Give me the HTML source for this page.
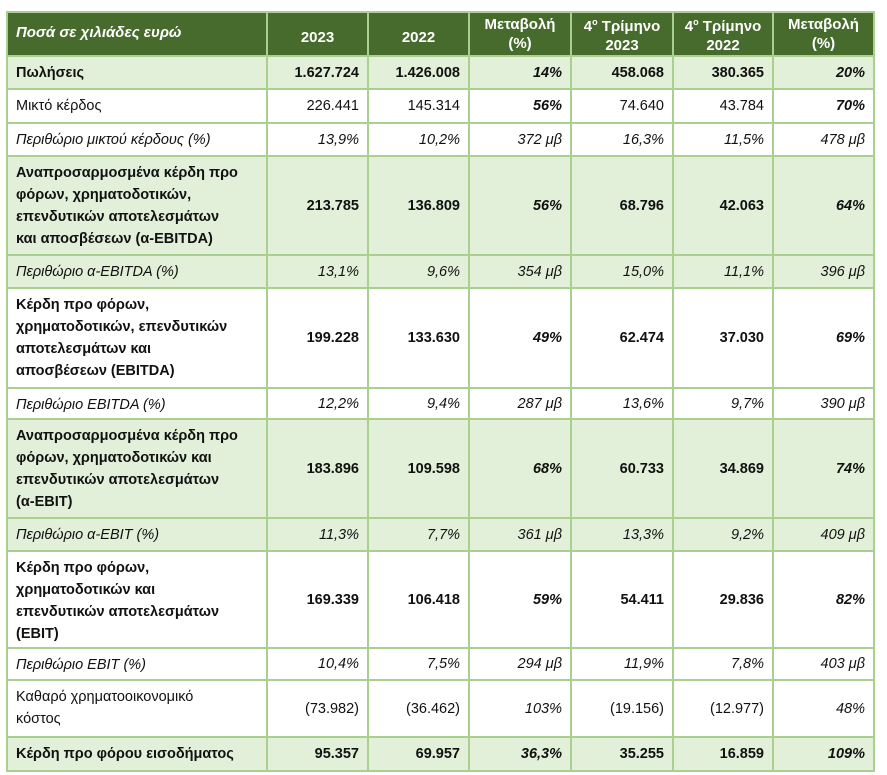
<!DOCTYPE html>
<html><head><meta charset="utf-8">
<style>
body{margin:0;background:#fff;width:887px;height:775px;overflow:hidden;font-family:"Liberation Sans","DejaVu Sans",sans-serif;color:#111;}
table{position:absolute;left:6px;top:11px;border-collapse:collapse;table-layout:fixed;font-size:14.5px;}
td{border:2px solid #a9d08e;padding:0 8px;line-height:22px;vertical-align:middle;text-align:right;white-space:nowrap;box-sizing:border-box;}
td:first-child{text-align:left;vertical-align:top;padding-top:5px;}
tr.h td{background:#466b2c;color:#fff;font-weight:bold;text-align:center;line-height:19px;vertical-align:middle;padding:0 4px;font-size:15px;}
tr.h td.lo{padding-top:6px;}
tr.h td:first-child{font-style:italic;text-align:left;padding:0 8px 4px 8px;vertical-align:middle;}
tr.g td{background:#e2efd9;}
.b{font-weight:bold}
.i{font-style:italic}
.bi{font-weight:bold;font-style:italic}
</style></head><body>
<table>
<colgroup><col style="width:260px"><col style="width:101px"><col style="width:101px"><col style="width:102px"><col style="width:102px"><col style="width:100px"><col style="width:101px"></colgroup>
<tr class="h" style="height:44px"><td>Ποσά σε χιλιάδες ευρώ</td><td class="lo">2023</td><td class="lo">2022</td><td>Μεταβολή<br>(%)</td><td>4<sup style="font-size:9px">ο</sup> Τρίμηνο<br>2023</td><td>4<sup style="font-size:9px">ο</sup> Τρίμηνο<br>2022</td><td>Μεταβολή<br>(%)</td></tr>
<tr class="g b" style="height:33px"><td>Πωλήσεις</td><td>1.627.724</td><td>1.426.008</td><td class="bi">14%</td><td>458.068</td><td>380.365</td><td class="bi">20%</td></tr>
<tr style="height:34px"><td>Μικτό κέρδος</td><td>226.441</td><td>145.314</td><td class="bi">56%</td><td>74.640</td><td>43.784</td><td class="bi">70%</td></tr>
<tr class="i" style="height:33px"><td>Περιθώριο μικτού κέρδους (%)</td><td>13,9%</td><td>10,2%</td><td>372 μβ</td><td>16,3%</td><td>11,5%</td><td>478 μβ</td></tr>
<tr class="g b" style="height:99px"><td>Αναπροσαρμοσμένα κέρδη προ<br>φόρων, χρηματοδοτικών,<br>επενδυτικών αποτελεσμάτων<br>και αποσβέσεων (α-EBITDA)</td><td>213.785</td><td>136.809</td><td class="bi">56%</td><td>68.796</td><td>42.063</td><td class="bi">64%</td></tr>
<tr class="g i" style="height:33px"><td>Περιθώριο α-EBITDA (%)</td><td>13,1%</td><td>9,6%</td><td>354 μβ</td><td>15,0%</td><td>11,1%</td><td>396 μβ</td></tr>
<tr class="b" style="height:100px"><td>Κέρδη προ φόρων,<br>χρηματοδοτικών, επενδυτικών<br>αποτελεσμάτων και<br>αποσβέσεων (EBITDA)</td><td>199.228</td><td>133.630</td><td class="bi">49%</td><td>62.474</td><td>37.030</td><td class="bi">69%</td></tr>
<tr class="i" style="height:31px"><td>Περιθώριο EBITDA (%)</td><td>12,2%</td><td>9,4%</td><td>287 μβ</td><td>13,6%</td><td>9,7%</td><td>390 μβ</td></tr>
<tr class="g b" style="height:99px"><td>Αναπροσαρμοσμένα κέρδη προ<br>φόρων, χρηματοδοτικών και<br>επενδυτικών αποτελεσμάτων<br>(α-EBIT)</td><td>183.896</td><td>109.598</td><td class="bi">68%</td><td>60.733</td><td>34.869</td><td class="bi">74%</td></tr>
<tr class="g i" style="height:33px"><td>Περιθώριο α-EBIT (%)</td><td>11,3%</td><td>7,7%</td><td>361 μβ</td><td>13,3%</td><td>9,2%</td><td>409 μβ</td></tr>
<tr class="b" style="height:97px"><td>Κέρδη προ φόρων,<br>χρηματοδοτικών και<br>επενδυτικών αποτελεσμάτων<br>(EBIT)</td><td>169.339</td><td>106.418</td><td class="bi">59%</td><td>54.411</td><td>29.836</td><td class="bi">82%</td></tr>
<tr class="i" style="height:32px"><td>Περιθώριο EBIT (%)</td><td>10,4%</td><td>7,5%</td><td>294 μβ</td><td>11,9%</td><td>7,8%</td><td>403 μβ</td></tr>
<tr style="height:57px"><td>Καθαρό χρηματοοικονομικό<br>κόστος</td><td>(73.982)</td><td>(36.462)</td><td class="i">103%</td><td>(19.156)</td><td>(12.977)</td><td class="i">48%</td></tr>
<tr class="g b" style="height:34px"><td>Κέρδη προ φόρου εισοδήματος</td><td>95.357</td><td>69.957</td><td class="bi">36,3%</td><td>35.255</td><td>16.859</td><td class="bi">109%</td></tr>
</table>
</body></html>
